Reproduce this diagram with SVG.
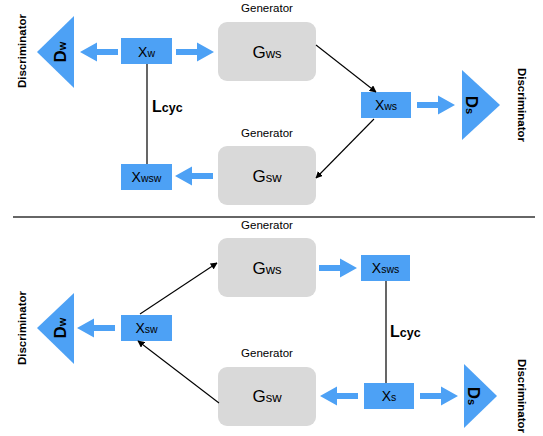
<svg xmlns="http://www.w3.org/2000/svg" width="543" height="436" viewBox="0 0 543 436">
<defs>
<style>
.gen{fill:#d9d9d9}
.box{fill:#4da1f5}
.tri{fill:#4da1f5}
.lbl{font-family:"Liberation Sans",Arial,sans-serif;fill:#000}
.glab{font-size:11.5px}
.disc{font-size:11.5px;font-weight:bold}
.thinA{stroke:#000;stroke-width:1.1;fill:none;marker-end:url(#ah)}
.cyc{stroke:#000;stroke-width:1.2}
.X{font-size:14px}
.xs{font-size:10.5px}
.G{font-size:17px}
.gs{font-size:13px}
.D{font-size:17px}
.ds{font-size:11px}
.L{font-size:16px}
.ls{font-size:12.5px}
</style>
<marker id="ah" viewBox="0 0 10 10" refX="9" refY="5" markerWidth="7" markerHeight="7" orient="auto" markerUnits="userSpaceOnUse">
<path d="M0,0 L10,5 L0,10 z" fill="#000"/>
</marker>
<path id="fat" d="M0,-3 L21,-3 L21,-9.5 L38,0 L21,9.5 L21,3 L0,3 z" fill="#4da1f5"/>
</defs>

<rect width="543" height="436" fill="#fff"/>

<line x1="13" y1="217" x2="535" y2="217" stroke="#333" stroke-width="1.5"/>

<g id="disc_w_top">
<polygon class="tri" points="74,16 74,88 37,52"/>
<text class="lbl" transform="translate(66,52) rotate(-90)" text-anchor="middle" font-weight="bold"><tspan class="D">D</tspan><tspan class="ds">w</tspan></text>
<text class="lbl disc" transform="translate(26,51) rotate(-90)" text-anchor="middle">Discriminator</text>
</g>

<g id="xw">
<rect class="box" x="121" y="38" width="51" height="26"/>
<text class="lbl" x="146.5" y="57" text-anchor="middle"><tspan class="X">X</tspan><tspan class="xs">w</tspan></text>
</g>

<g id="gws_top">
<text class="lbl glab" x="267" y="12" text-anchor="middle">Generator</text>
<rect class="gen" x="218" y="22" width="98" height="59" rx="9"/>
<text class="lbl" x="267" y="58" text-anchor="middle"><tspan class="G">G</tspan><tspan class="gs">ws</tspan></text>
</g>

<g id="gsw_top">
<text class="lbl glab" x="267" y="137" text-anchor="middle">Generator</text>
<rect class="gen" x="218" y="146" width="98" height="59" rx="9"/>
<text class="lbl" x="267" y="182" text-anchor="middle"><tspan class="G">G</tspan><tspan class="gs">sw</tspan></text>
</g>

<g id="xwsw">
<rect class="box" x="121" y="164" width="51" height="26"/>
<text class="lbl" x="146.5" y="182" text-anchor="middle"><tspan class="X">X</tspan><tspan class="xs">wsw</tspan></text>
</g>

<g id="xws">
<rect class="box" x="361" y="92" width="50" height="26"/>
<text class="lbl" x="386" y="110" text-anchor="middle"><tspan class="X">X</tspan><tspan class="xs">ws</tspan></text>
</g>

<g id="disc_s_top">
<polygon class="tri" points="462,70 462,140 500,105"/>
<text class="lbl" transform="translate(466,105) rotate(90)" text-anchor="middle" font-weight="bold"><tspan class="D">D</tspan><tspan class="ds">s</tspan></text>
<text class="lbl disc" transform="translate(518,105) rotate(90)" text-anchor="middle">Discriminator</text>
</g>

<g id="disc_w_bot">
<polygon class="tri" points="74,293 74,364 37,328"/>
<text class="lbl" transform="translate(66,328) rotate(-90)" text-anchor="middle" font-weight="bold"><tspan class="D">D</tspan><tspan class="ds">w</tspan></text>
<text class="lbl disc" transform="translate(26,328) rotate(-90)" text-anchor="middle">Discriminator</text>
</g>

<g id="xsw">
<rect class="box" x="121" y="315" width="51" height="26"/>
<text class="lbl" x="146.5" y="333" text-anchor="middle"><tspan class="X">X</tspan><tspan class="xs">sw</tspan></text>
</g>

<g id="gws_bot">
<text class="lbl glab" x="267" y="229" text-anchor="middle">Generator</text>
<rect class="gen" x="218" y="238" width="98" height="59" rx="9"/>
<text class="lbl" x="267" y="274" text-anchor="middle"><tspan class="G">G</tspan><tspan class="gs">ws</tspan></text>
</g>

<g id="gsw_bot">
<text class="lbl glab" x="267" y="357" text-anchor="middle">Generator</text>
<rect class="gen" x="218" y="367" width="98" height="59" rx="9"/>
<text class="lbl" x="267" y="402" text-anchor="middle"><tspan class="G">G</tspan><tspan class="gs">sw</tspan></text>
</g>

<g id="xsws">
<rect class="box" x="361" y="255" width="49" height="26"/>
<text class="lbl" x="385.5" y="273" text-anchor="middle"><tspan class="X">X</tspan><tspan class="xs">sws</tspan></text>
</g>

<g id="xs">
<rect class="box" x="364" y="383" width="50" height="26"/>
<text class="lbl" x="389" y="401" text-anchor="middle"><tspan class="X">X</tspan><tspan class="xs">s</tspan></text>
</g>

<g id="disc_s_bot">
<polygon class="tri" points="464,364 464,428 497,396"/>
<text class="lbl" transform="translate(468,396) rotate(90)" text-anchor="middle" font-weight="bold"><tspan class="D">D</tspan><tspan class="ds">s</tspan></text>
<text class="lbl disc" transform="translate(518,396) rotate(90)" text-anchor="middle">Discriminator</text>
</g>

<g id="connectors">
<use href="#fat" transform="translate(118,52) rotate(180)"/>
<use href="#fat" transform="translate(176,52)"/>
<use href="#fat" transform="translate(213,176) rotate(180)"/>
<use href="#fat" transform="translate(417,105)"/>
<line class="thinA" x1="316" y1="45" x2="376" y2="92"/>
<line class="thinA" x1="374" y1="119" x2="316" y2="178"/>
<line class="cyc" x1="147" y1="64" x2="147" y2="164"/>
<text class="lbl" x="152" y="112" font-weight="bold"><tspan class="L">L</tspan><tspan class="ls">cyc</tspan></text>
<use href="#fat" transform="translate(115,328) rotate(180)"/>
<use href="#fat" transform="translate(319,268)"/>
<use href="#fat" transform="translate(358,396) rotate(180)"/>
<use href="#fat" transform="translate(420,396)"/>
<line class="thinA" x1="140" y1="314" x2="217" y2="263"/>
<line class="thinA" x1="219" y1="403" x2="138" y2="341"/>
<line class="cyc" x1="386" y1="281" x2="386" y2="383"/>
<text class="lbl" x="390" y="337" font-weight="bold"><tspan class="L">L</tspan><tspan class="ls">cyc</tspan></text>
</g>
</svg>
